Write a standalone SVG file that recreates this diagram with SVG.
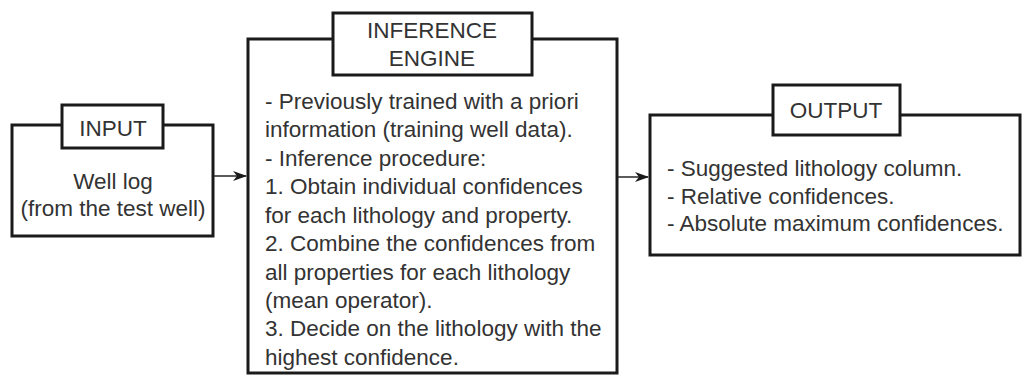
<svg xmlns="http://www.w3.org/2000/svg" width="1022" height="376" viewBox="0 0 1022 376">
<style>
.box{fill:#fff;stroke:#1a1a1a;stroke-width:3}
.t{font-family:"Liberation Sans",Arial,sans-serif;font-size:22.5px;fill:#333}
.c{text-anchor:middle}
.conn{stroke:#333;stroke-width:1.6;fill:none}
</style>
<defs>
<marker id="ah" markerWidth="14" markerHeight="10" refX="13" refY="5" orient="auto" markerUnits="userSpaceOnUse">
<path d="M0,0 L14,5 L0,10 L4,5 Z" fill="#1a1a1a"/>
</marker>
</defs>
<rect width="1022" height="376" fill="#fff"/>
<g id="input">
<rect class="box" x="12" y="125" width="201" height="111"/>
<rect class="box" x="62" y="105" width="101" height="43"/>
<text class="t c" x="113" y="136">INPUT</text>
<text class="t c" x="113" y="189">Well log</text>
<text class="t c" x="113" y="216">(from the test well)</text>
</g>
<g id="engine">
<rect class="box" x="248" y="39" width="369" height="334"/>
<rect class="box" x="333" y="13" width="199" height="62"/>
<text class="t c" x="432" y="38">INFERENCE</text>
<text class="t c" x="432" y="66">ENGINE</text>
<text class="t" x="265" y="109">- Previously trained with a priori</text>
<text class="t" x="265" y="137">information (training well data).</text>
<text class="t" x="265" y="166">- Inference procedure:</text>
<text class="t" x="265" y="194">1. Obtain individual confidences</text>
<text class="t" x="265" y="223">for each lithology and property.</text>
<text class="t" x="265" y="251">2. Combine the confidences from</text>
<text class="t" x="265" y="280">all properties for each lithology</text>
<text class="t" x="265" y="308">(mean operator).</text>
<text class="t" x="265" y="336">3. Decide on the lithology with the</text>
<text class="t" x="265" y="365">highest confidence.</text>
</g>
<g id="output">
<rect class="box" x="650" y="115" width="370" height="140"/>
<rect class="box" x="773" y="85" width="127" height="50"/>
<text class="t c" x="836" y="118">OUTPUT</text>
<text class="t" x="667" y="176">- Suggested lithology column.</text>
<text class="t" x="667" y="204">- Relative confidences.</text>
<text class="t" x="667" y="231">- Absolute maximum confidences.</text>
</g>
<g id="connectors">
<line class="conn" x1="214" y1="176" x2="246" y2="176" marker-end="url(#ah)"/>
<line class="conn" x1="618" y1="177" x2="648" y2="177" marker-end="url(#ah)"/>
</g>
</svg>
